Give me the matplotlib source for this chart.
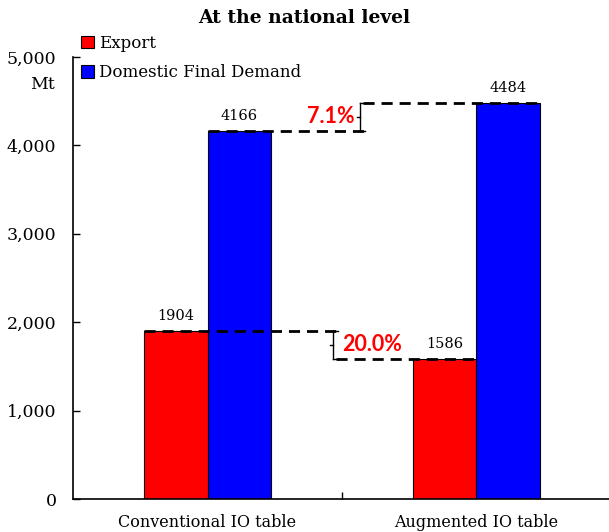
"""Export vs domestic final demand emissions, conventional vs augmented IO table."""
import matplotlib
matplotlib.use("Agg")
import matplotlib.pyplot as plt
import numpy as np

# data
tables = ["Conventional IO table", "Augmented IO table"]
export = [1904, 1586]
domestic = [4166, 4484]
series_labels = ["Export", "Domestic Final Demand"]
yticks = [0, 1000, 2000, 3000, 4000, 5000]
pct_labels = {"domestic": "7.1%", "export": "20.0%"}

plt.rcParams["font.family"] = "DejaVu Serif"

fig = plt.figure(figsize=(6.09, 5.32), dpi=100)
ax = fig.add_axes([0.12, 0.062, 0.883, 0.831])

x = np.arange(len(tables))
w = 0.236
b1 = ax.bar(x - w / 2, export, w, color="#ff0000", edgecolor="black", lw=0.8,
            label=series_labels[0], zorder=2)
b2 = ax.bar(x + w / 2, domestic, w, color="#0000ff", edgecolor="black", lw=0.8,
            label=series_labels[1], zorder=2)

for bars, vals in ((b1, export), (b2, domestic)):
    for r, v in zip(bars, vals):
        ax.text(r.get_x() + r.get_width() / 2, v + 90, f"{v}", ha="center",
                va="bottom", fontsize=10.5)

ax.set_xlim(-0.5, 1.5)
ax.set_ylim(0, 5000)
ax.set_yticks(yticks)
ax.set_yticklabels([f"{t:,}" for t in yticks], fontsize=12.5)
ax.tick_params(axis="y", direction="in", length=5, width=1, pad=12)
ax.set_xticks(x)
ax.set_xticklabels(tables, fontsize=11.5)
ax.tick_params(axis="x", length=0, pad=11)
ax.set_xticks([0.5], minor=True)
ax.tick_params(axis="x", which="minor", direction="in", length=5, width=1)
for s in ("top", "right"):
    ax.spines[s].set_visible(False)
for s in ("left", "bottom"):
    ax.spines[s].set_linewidth(1.2)


def bracket(ax, xb, y0, y1, cap=0.02, nub=0.012):
    lo, hi = min(y0, y1), max(y0, y1)
    ax.plot([xb, xb], [lo, hi], color="black", lw=1, zorder=3)
    ax.plot([xb, xb + cap], [hi, hi], color="black", lw=1, zorder=3)
    ax.plot([xb, xb + cap], [lo, lo], color="black", lw=1, zorder=3)
    ax.plot([xb - nub, xb], [(lo + hi) / 2] * 2, color="black", lw=1, zorder=3)


dash = dict(color="black", lw=2, ls=(0, (4, 2.5)), zorder=4)

# domestic gap
xb = 0.567
ax.plot([x[0], xb + 0.02], [domestic[0]] * 2, **dash)
ax.plot([xb + 0.01, x[1] + w], [domestic[1]] * 2, **dash)
bracket(ax, xb, domestic[0], domestic[1])
ax.text(xb - 0.02, (domestic[0] + domestic[1]) / 2, pct_labels["domestic"],
        color="#ff0000", fontsize=15.5, fontweight="bold", family="Lato",
        ha="right", va="center")

# export gap
xb = 0.467
ax.plot([x[0] - w, xb + 0.01], [export[0]] * 2, **dash)
ax.plot([xb + 0.01, x[1]], [export[1]] * 2, **dash)
bracket(ax, xb, export[0], export[1])
ax.text(xb + 0.033, (export[0] + export[1]) / 2, pct_labels["export"],
        color="#ff0000", fontsize=15.5, fontweight="bold", family="Lato",
        ha="left", va="center")

fig.legend(loc="upper left", bbox_to_anchor=(0.122, 0.947), frameon=False,
           fontsize=12, handlelength=0.8, handleheight=0.8,
           handletextpad=0.3, labelspacing=0.75, borderaxespad=0)
fig.text(0.069, 0.842, "Mt", ha="center", va="center", fontsize=12.5)
fig.suptitle("At the national level", y=0.966, va="center", fontsize=13.5,
             fontweight="bold")

fig.savefig("out.png", dpi=100)
